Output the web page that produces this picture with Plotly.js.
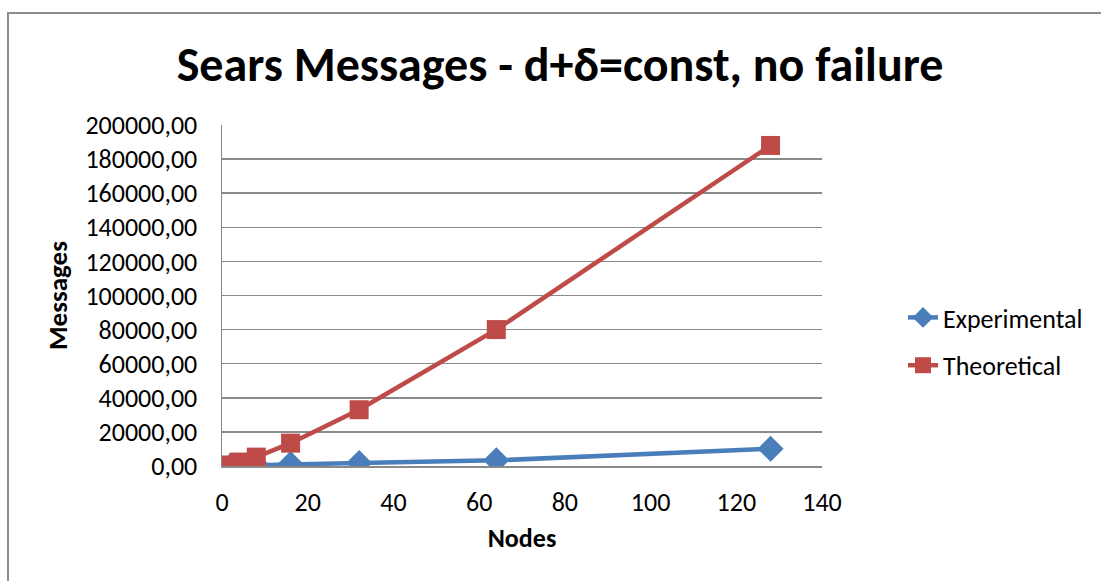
<!DOCTYPE html>
<html>
<head>
<meta charset="utf-8">
<script src="https://cdn.plot.ly/plotly-3.0.1.min.js"></script>
<style>
  html, body { margin: 0; padding: 0; background: #ffffff; }
  #wrap { position: relative; width: 1101px; height: 581px; overflow: hidden; }
  #chart { position: absolute; left: 0; top: 0; width: 1101px; height: 581px; }
  #frame { position: absolute; left: 7px; top: 12px; width: 1200px; height: 700px;
           border-left: 2px solid #8c8c8c; border-top: 2px solid #8c8c8c; pointer-events: none; }
</style>
</head>
<body>
<div id="wrap">
  <div id="chart"></div>
  <div id="frame"></div>
</div>
<script>
// Number of nodes in each run
const nodes = [2, 4, 8, 16, 32, 64, 128];

// Message counts per run
const experimental = [100, 250, 600, 1200, 1800, 3300, 10100];
const theoretical  = [600, 2300, 5200, 13400, 33000, 80000, 188000];

// Axis ticks
const yTickVals   = [0, 20000, 40000, 60000, 80000, 100000, 120000, 140000, 160000, 180000, 200000];
const yTickLabels = ['0,00', '20000,00', '40000,00', '60000,00', '80000,00', '100000,00',
                     '120000,00', '140000,00', '160000,00', '180000,00', '200000,00'];
const xTickVals   = [0, 20, 40, 60, 80, 100, 120, 140];

const FONT = 'Carlito, Lato, "Open Sans", sans-serif';
const GRID = '#8a8a8a';

const traces = [
  {
    name: 'Experimental',
    x: nodes, y: experimental,
    type: 'scatter', mode: 'lines+markers',
    legendgroup: 'a',
    line: { color: '#4A7EBB', width: 4.5 },
    marker: { symbol: 'diamond', size: 20, color: '#4A7EBB' }
  },
  {
    name: 'Theoretical',
    x: nodes, y: theoretical,
    type: 'scatter', mode: 'lines+markers',
    legendgroup: 'b',
    line: { color: '#BE4B48', width: 4.5 },
    marker: { symbol: 'square', size: 19, color: '#BE4B48' }
  }
];

const layout = {
  width: 1101, height: 581,
  margin: { l: 222, r: 279, t: 125, b: 115 },
  paper_bgcolor: '#ffffff', plot_bgcolor: '#ffffff',
  font: { family: FONT, size: 26, color: '#000000' },
  showlegend: true,
  title: {
    text: 'Sears Messages - d+δ=const, no failure',
    font: { family: FONT, size: 48, color: '#000000', weight: 'bold' },
    x: 560 / 1101, xref: 'container', xanchor: 'center',
    y: 1 - 64 / 581, yref: 'container', yanchor: 'middle'
  },
  xaxis: {
    range: [0, 140],
    tickmode: 'array', tickvals: xTickVals,
    showgrid: false, zeroline: false,
    showline: true, linecolor: GRID, linewidth: 1.5,
    ticks: '', ticklabelstandoff: 12,
    tickfont: { family: FONT, size: 26 },
    title: { text: 'Nodes', font: { family: FONT, size: 26, weight: 'bold' }, standoff: 12 },
    fixedrange: true
  },
  yaxis: {
    range: [0, 200000],
    tickmode: 'array', tickvals: yTickVals, ticktext: yTickLabels,
    showgrid: true, gridcolor: GRID, gridwidth: 1.5,
    zeroline: false,
    showline: true, linecolor: GRID, linewidth: 1.5,
    ticks: '', ticklabelstandoff: 18,
    tickfont: { family: FONT, size: 26 },
    title: { text: 'Messages', font: { family: FONT, size: 27, weight: 'bold' }, standoff: 10 },
    fixedrange: true
  },
  legend: {
    x: (903 - 222) / 600, xanchor: 'left',
    y: (466 - 294) / 341, yanchor: 'top',
    font: { family: FONT, size: 26 },
    traceorder: 'grouped', tracegroupgap: 11,
    bgcolor: 'rgba(0,0,0,0)', borderwidth: 0
  }
};

Plotly.newPlot('chart', traces, layout, { displayModeBar: false, staticPlot: true });
</script>
</body>
</html>
